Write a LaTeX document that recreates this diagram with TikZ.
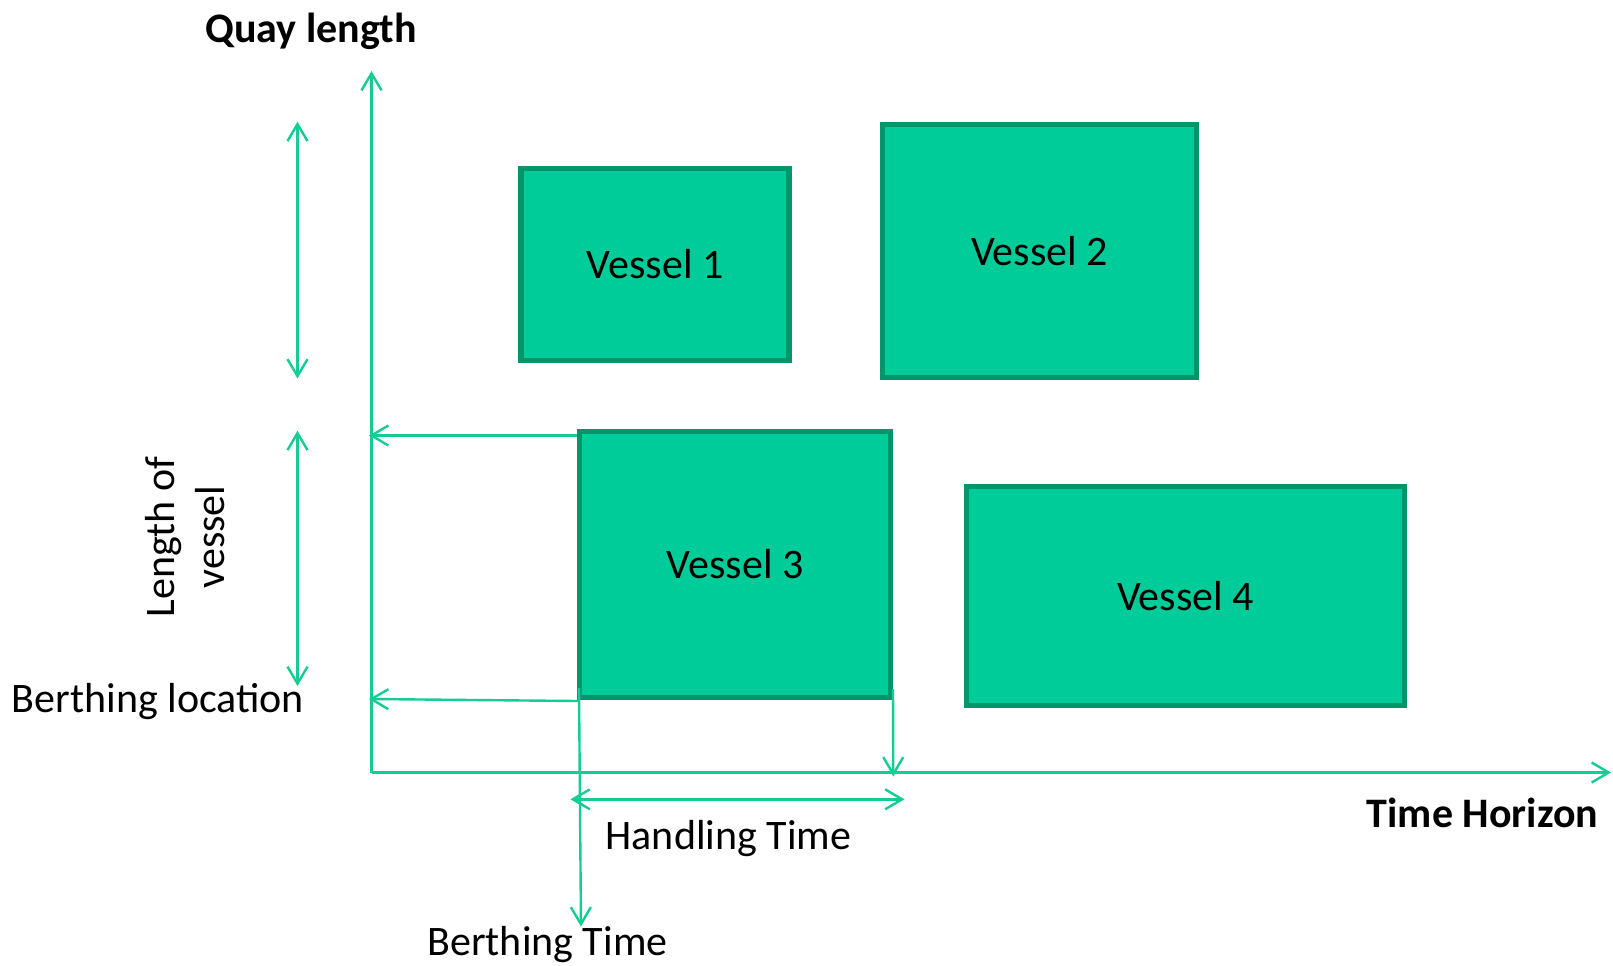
\documentclass[tikz,border=0pt]{standalone}
\usepackage{fontspec}
\setmainfont{Carlito}
\usetikzlibrary{arrows.meta}
\definecolor{vesselfill}{RGB}{0,204,153}
\definecolor{vesseledge}{RGB}{0,150,105}
\definecolor{guideline}{RGB}{20,204,150}
\tikzset{
	barb/.tip={Straight Barb[length=8.5pt,width=10pt]},
	guide/.style={draw=guideline, line width=1.2pt},
	vessel/.style={draw=vesseledge, fill=vesselfill, line width=2.8pt, inner sep=0pt, font=\fontsize{21}{25}\selectfont},
	lbl/.style={inner sep=0pt, font=\fontsize{21}{25}\selectfont}
}

\begin{document}
\begin{tikzpicture}[x=0.5pt, y=-0.5pt]
			%%%%% START %%%%%
			\useasboundingbox (0,0) rectangle (1613,965);
			
			\coordinate (origin) at (371.5,772.5);
			\coordinate (quaytip) at (371.5,71);
			\coordinate (timetip) at (1611,772.5);
			\draw[guide, -barb] (origin) -- (quaytip);
			\draw[guide, -barb] (origin) -- (timetip);
			
			\node[lbl, anchor=base] (quay) at (311,42) {\bfseries Quay length};
			\node[lbl, anchor=base] (horizon) at (1482.5,827) {\bfseries Time Horizon};
			
			\node[vessel, minimum width=134pt, minimum height=96pt] (v1) at (655,264.5) {Vessel 1};
			\node[vessel, minimum width=157pt, minimum height=126.5pt] (v2) at (1039.5,251) {Vessel 2};
			\node[vessel, minimum width=155.5pt, minimum height=133pt] (v3) at (735,564.5) {Vessel 3};
			\node[vessel, minimum width=219pt, minimum height=109.5pt] (v4) at (1185.5,596) {Vessel 4};
			
			% length arrows on the left
			\coordinate (up1) at (297.5,121.7);
			\coordinate (up2) at (297.5,378.5);
			\coordinate (lo1) at (297.5,430.7);
			\coordinate (lo2) at (297.5,686);
			\draw[guide, barb-barb] (up1) -- (up2);
			\draw[guide, barb-barb] (lo1) -- (lo2);
			\node[lbl, rotate=90, align=center] (lenv) at (185,537) {Length of\\vessel};
			\node[lbl, anchor=base] (bloc) at (158,712) {Berthing location};
			
			% projections of vessel 3
			\coordinate (topstart) at (577,435.5);
			\coordinate (toptip) at (369,435.5);
			\coordinate (locstart) at (578,701);
			\coordinate (loctip) at (369,699);
			\coordinate (btstart) at (579,688);
			\coordinate (bttip) at (581,926.5);
			\coordinate (endstart) at (893,689);
			\coordinate (endtip) at (893.3,776.5);
			\coordinate (htleft) at (570.5,799.3);
			\coordinate (htright) at (904.5,799.3);
			\draw[guide, -barb] (topstart) -- (toptip);
			\draw[guide, -barb] (locstart) -- (loctip);
			\draw[guide, -barb] (btstart) -- (bttip);
			\draw[guide, -barb] (endstart) -- (endtip);
			\draw[guide, barb-barb] (htleft) -- (htright);
			
			\node[lbl, anchor=base] (htime) at (728.5,849) {Handling Time};
			\node[lbl, anchor=base] (btime) at (547.5,955) {Berthing Time};
			%%%%% END %%%%%
\end{tikzpicture}
\end{document}
